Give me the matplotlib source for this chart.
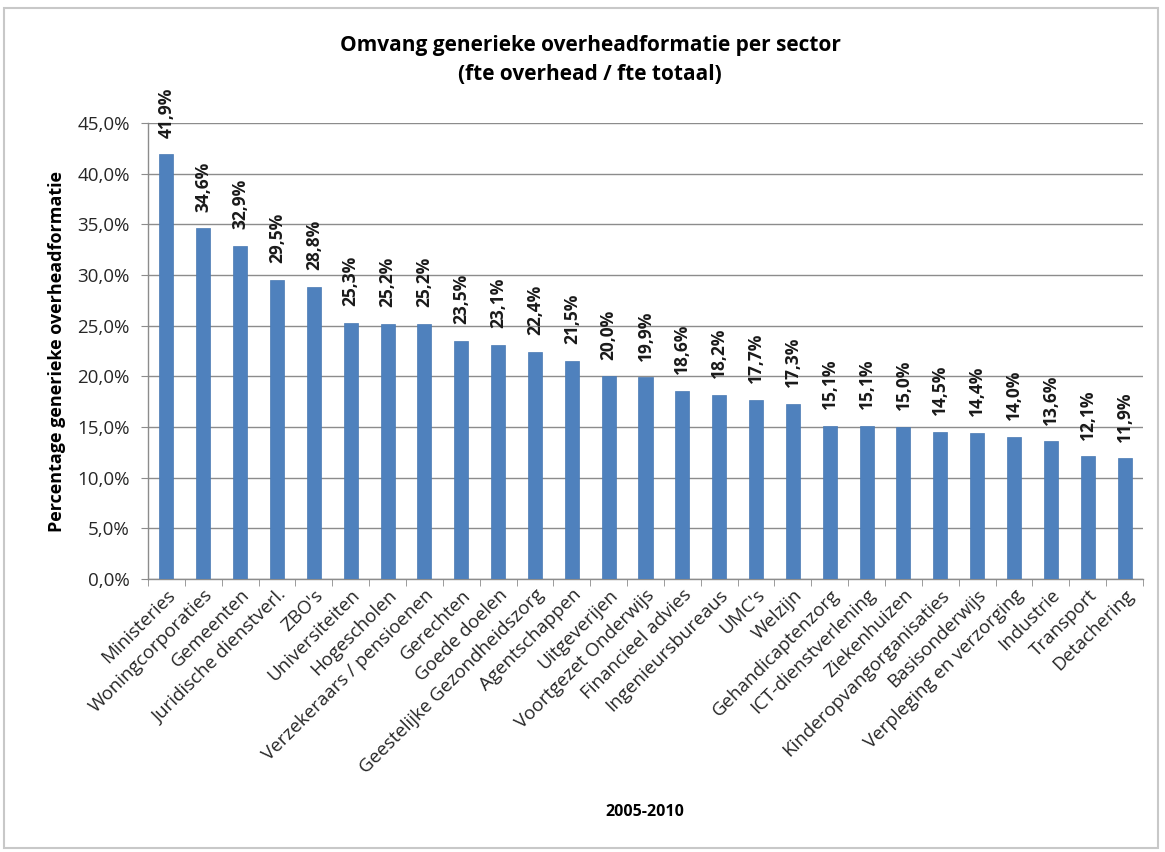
import matplotlib
matplotlib.use("Agg")
import matplotlib.pyplot as plt
from matplotlib.patches import Rectangle
from matplotlib.ticker import MultipleLocator, FuncFormatter, FixedLocator
import numpy as np

plt.rcParams['font.family'] = ['Open Sans', 'DejaVu Sans']

sectors = ["Ministeries", "Woningcorporaties", "Gemeenten", "Juridische dienstverl.", "ZBO's",
           "Universiteiten", "Hogescholen", "Verzekeraars / pensioenen", "Gerechten", "Goede doelen",
           "Geestelijke Gezondheidszorg", "Agentschappen", "Uitgeverijen", "Voortgezet Onderwijs",
           "Financieel advies", "Ingenieursbureaus", "UMC's", "Welzijn", "Gehandicaptenzorg",
           "ICT-dienstverlening", "Ziekenhuizen", "Kinderopvangorganisaties", "Basisonderwijs",
           "Verpleging en verzorging", "Industrie", "Transport", "Detachering"]
values = [41.9, 34.6, 32.9, 29.5, 28.8, 25.3, 25.2, 25.2, 23.5, 23.1, 22.4, 21.5, 20.0, 19.9,
          18.6, 18.2, 17.7, 17.3, 15.1, 15.1, 15.0, 14.5, 14.4, 14.0, 13.6, 12.1, 11.9]

title = "Omvang generieke overheadformatie per sector\n(fte overhead / fte totaal)"
ylabel = "Percentage generieke overheadformatie"
xlabel = "2005-2010"

W, H = 1165, 852
fig = plt.figure(figsize=(W / 100, H / 100), dpi=100)
fig.patch.set_facecolor('white')
fig.add_artist(Rectangle((4 / W, 4 / H), 1154 / W, 840 / H, transform=fig.transFigure,
                         fill=False, edgecolor='#c8c8c8', linewidth=1.5))

ax = fig.add_axes([148 / W, (H - 579) / H, (1143 - 148) / W, (579 - 123) / H])
x = np.arange(len(sectors))
ax.bar(x, values, width=0.38, color='#4F81BD', edgecolor='#4a7ab3', linewidth=0.5, zorder=3)

ax.set_xlim(-0.5, len(sectors) - 0.5)
ax.set_ylim(0, 45)
ax.yaxis.set_major_locator(MultipleLocator(5))
ax.yaxis.set_major_formatter(FuncFormatter(lambda v, p: f"{v:.1f}%".replace('.', ',')))
ax.grid(axis='y', color='#8c8c8c', linewidth=1.0, zorder=0)
ax.set_axisbelow(True)

for s in ['top', 'right']:
    ax.spines[s].set_visible(False)
for s in ['left', 'bottom']:
    ax.spines[s].set_color('#8c8c8c')
    ax.spines[s].set_linewidth(1.0)

ax.set_xticks(x)
ax.set_xticklabels(sectors, rotation=45, ha='right', rotation_mode='anchor', fontsize=13.5,
                   color='#262626')
ax.tick_params(axis='x', length=0, pad=5)
ax.xaxis.set_minor_locator(FixedLocator(np.arange(-0.5, len(sectors), 1.0)))
ax.tick_params(axis='x', which='minor', length=5, color='#8c8c8c')
ax.tick_params(axis='y', length=5, color='#8c8c8c', labelsize=13.5, pad=8, labelcolor='#262626')

for xi, v in zip(x, values):
    ax.annotate(f"{v:.1f}%".replace('.', ','), xy=(xi, v), xytext=(0, 12),
                textcoords='offset points', rotation=90, ha='center', va='bottom',
                fontsize=12.5, fontweight='bold', color='#1a1a1a')

fig.text(590 / W, 1 - 60 / H, title, ha='center', va='center', fontsize=15, fontweight='bold',
         linespacing=1.55)
fig.text(57 / W, 1 - 352 / H, ylabel, rotation=90, ha='center', va='center', fontsize=13,
         fontweight='bold')
fig.text(645 / W, 1 - 812 / H, xlabel, ha='center', va='center', fontsize=11.5, fontweight='bold')

fig.savefig("out.png", dpi=100)
